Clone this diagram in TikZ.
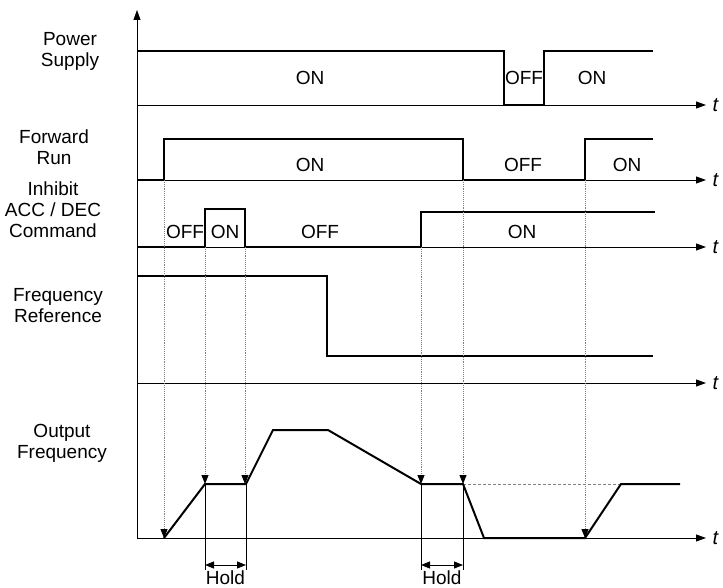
\documentclass[tikz,border=0pt]{standalone}
\usepackage{fontspec}
\setmainfont{Liberation Sans}
\usetikzlibrary{arrows.meta}

\tikzset{
  sig/.style={line width=2pt},
  axis/.style={line width=0.9pt, -{Triangle[length=10pt,width=7pt]}},
  guide/.style={gray, line width=0.9pt, densely dotted, -{Triangle[length=9pt,width=7pt,color=black]}},
  lbl/.style={align=center, font=\fontsize{19}{21}\selectfont},
  st/.style={font=\fontsize{19}{21}\selectfont},
  tlbl/.style={anchor=west, font=\fontsize{20}{21}\selectfont\itshape},
}

\begin{document}
\begin{tikzpicture}[x=1pt,y=-1pt]
    \useasboundingbox (0,0) rectangle (723,588);

    % --- Signal names ---
    \node[lbl] (power) at (70,51) {Power\\Supply};
    \node[lbl] (fwd) at (54,147) {Forward\\Run};
    \node[lbl] (inh) at (53,210) {Inhibit\\ACC / DEC\\Command};
    \node[lbl] (fref) at (58,306) {Frequency\\Reference};
    \node[lbl] (fout) at (62,443) {Output\\Frequency};

    % --- Axes ---
    \draw[axis] (137,538) -- (137,10);
    \foreach \y/\n in {105/ta,180/tb,247/tc,383/td,538/te} {
        \draw[axis] (137,\y) -- (706,\y);
        \node[tlbl] (\n) at (709,\y) {t};
    }

    % --- Power supply ---
    \draw[sig] (137,51) -- (504,51) -- (504,105) -- (544,105) -- (544,51) -- (653,51);
    \node[st] (ps1) at (310,78) {ON};
    \node[st] (ps2) at (524,78) {OFF};
    \node[st] (ps3) at (592,78) {ON};

    % --- Forward run ---
    \draw[sig] (137,180) -- (164,180) -- (164,139) -- (463,139) -- (463,180)
        -- (585,180) -- (585,139) -- (653,139);
    \node[st] (fr1) at (310,165) {ON};
    \node[st] (fr2) at (523,165) {OFF};
    \node[st] (fr3) at (627,165) {ON};

    % --- Inhibit ACC/DEC ---
    \draw[sig] (137,247) -- (205,247) -- (205,209) -- (245,209) -- (245,247)
        -- (421,247) -- (421,212) -- (655,212);
    \node[st] (ih1) at (185,232) {OFF};
    \node[st] (ih2) at (225,232) {ON};
    \node[st] (ih3) at (320,232) {OFF};
    \node[st] (ih4) at (522,232) {ON};

    % --- Frequency reference ---
    \draw[sig] (137,276) -- (327,276) -- (327,356) -- (653,356);

    % --- Output frequency ---
    \draw[gray, line width=0.9pt, densely dashed] (463,484) -- (621,484);
    \draw[sig] (164,538) -- (205,484) -- (246,484) -- (273,430) -- (328,430)
        -- (421,484) -- (463,484) -- (484,538) -- (585,538) -- (621,484) -- (680,484);

    % --- Guides ---
    \draw[guide] (164,180) -- (164,538);
    \draw[guide] (205,247) -- (205,484);
    \draw[guide] (245,247) -- (245,484);
    \draw[guide] (421,247) -- (421,484);
    \draw[guide] (463,180) -- (463,484);
    \draw[guide] (585,180) -- (585,538);

    % --- Hold ---
    \foreach \a/\b/\n in {205/246/h1,421/463/h2} {
        \draw[line width=0.9pt] (\a,484) -- (\a,570) (\b,484) -- (\b,570);
        \draw[line width=0.9pt, {Triangle[length=9pt,width=7pt]}-{Triangle[length=9pt,width=7pt]}] (\a,565) -- (\b,565);
        \node[st] (\n) at ({(\a+\b)/2},577.5) {Hold};
    }
\end{tikzpicture}
\end{document}
